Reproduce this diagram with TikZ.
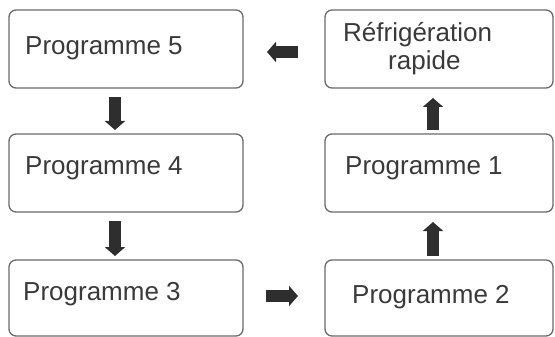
\documentclass[tikz,border=0pt]{standalone}
\usepackage{fontspec}
\setmainfont{Liberation Sans}
\usetikzlibrary{arrows.meta}
\definecolor{boxgray}{HTML}{6A6A6A}
\definecolor{txtgray}{HTML}{3A3A3A}
\definecolor{arrgray}{HTML}{2E2E2E}
\tikzset{
  stepbox/.style={draw=boxgray, line width=1.3pt, rounded corners=7pt, fill=white,
    inner sep=0pt, outer sep=0pt, anchor=north west},
  lbl/.style={text=txtgray, inner sep=0pt, anchor=base west, font=\fontsize{26pt}{30pt}\selectfont},
  blk/.style={draw=arrgray, line width=12pt, -{Triangle[width=20pt,length=9pt]}}
}
\begin{document}
\begin{tikzpicture}[x=1pt,y=-1pt]
\useasboundingbox (0,0) rectangle (555,337);
% boxes
\node[stepbox, minimum width=234pt, minimum height=78pt] (p5) at (9,10) {};
\node[stepbox, minimum width=234pt, minimum height=78pt] (p4) at (9,134) {};
\node[stepbox, minimum width=234pt, minimum height=76pt] (p3) at (9,260) {};
\node[stepbox, minimum width=228pt, minimum height=78pt] (rf) at (325,10) {};
\node[stepbox, minimum width=228pt, minimum height=78pt] (p1) at (325,134) {};
\node[stepbox, minimum width=228pt, minimum height=76pt] (p2) at (325,260) {};
% texts
\node[lbl] (t5) at (25,55) {Programme 5};
\node[lbl] (t4) at (25,175) {Programme 4};
\node[lbl] (t3) at (23,300) {Programme 3};
\node[lbl] (t1) at (345,175) {Programme 1};
\node[lbl] (t2) at (352,303) {Programme 2};
\node[lbl] (trf) at (343,42) {Réfrigération};
\node[lbl] (trp) at (388,70) {rapide};
% arrow guides
\coordinate (cl) at (115,0);
\coordinate (cr) at (433,0);
\coordinate (rowt) at (0,52);
\coordinate (rowb) at (0,296);
% arrows
\draw[blk, shorten <=9pt, shorten >=4pt] (p5.south -| cl) -- (p4.north -| cl);
\draw[blk, shorten <=9pt, shorten >=4pt] (p4.south -| cl) -- (p3.north -| cl);
\draw[blk, shorten <=23pt, shorten >=27pt] (p3.east |- rowb) -- (p2.west |- rowb);
\draw[blk, shorten <=4pt, shorten >=10pt] (p2.north -| cr) -- (p1.south -| cr);
\draw[blk, shorten <=4pt, shorten >=10pt] (p1.north -| cr) -- (rf.south -| cr);
\draw[blk, shorten <=27pt, shorten >=24pt] (rf.west |- rowt) -- (p5.east |- rowt);
\end{tikzpicture}
\end{document}
